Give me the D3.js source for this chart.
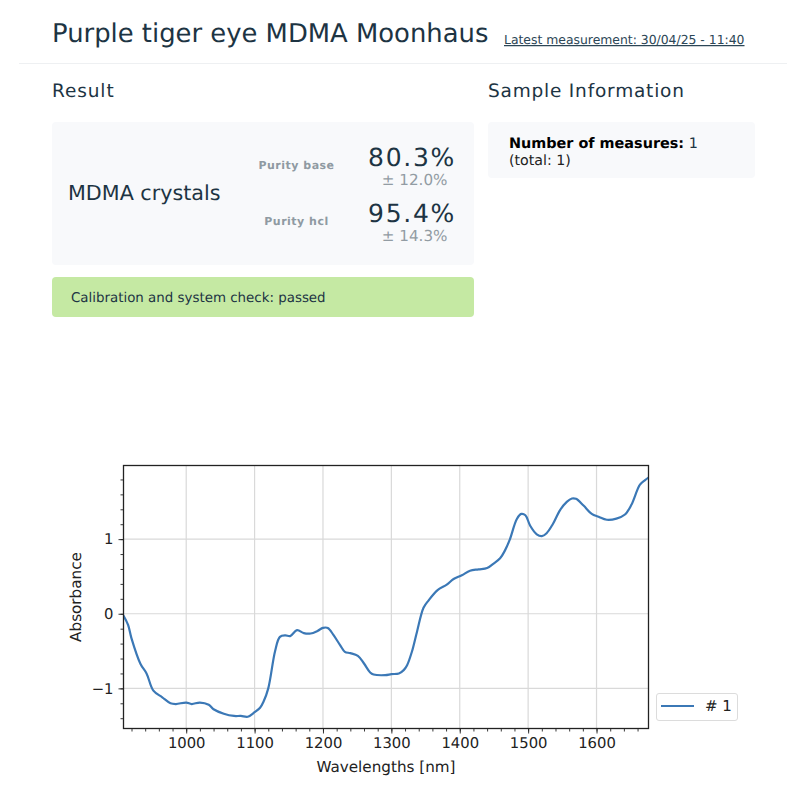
<!DOCTYPE html>
<html>
<head>
<meta charset="utf-8">
<script src="https://cdn.jsdelivr.net/npm/d3@7"></script>
<style>
  html, body { margin: 0; padding: 0; background: #fff; }
  svg { display: block; font-family: "DejaVu Sans", sans-serif; text-rendering: geometricPrecision; }
</style>
</head>
<body>
<svg id="page" width="806" height="800"></svg>
<script>
const wavelengths = [908,915,920,933,942,952,965,977,985,1000,1008,1020,1033,1040,1055,1070,1080,1090,1100,1108,1113,1120,1130,1137,1145,1152,1162,1172,1182,1192,1200,1207,1215,1225,1232,1240,1251,1260,1269,1274,1291,1300,1311,1318,1323,1330,1337.5,1347,1354.5,1368,1381,1391,1403,1415,1427.5,1440,1449,1459,1466,1473,1483.5,1490,1496,1503,1512.6,1520,1527,1536,1546.7,1556.5,1564,1570,1581,1593,1603,1615,1629,1641.6,1651,1663.5,1671,1676];
const absorbance = [-0.02,-0.15,-0.33,-0.67,-0.8,-1.03,-1.12,-1.2,-1.21,-1.19,-1.21,-1.19,-1.22,-1.28,-1.34,-1.37,-1.37,-1.38,-1.32,-1.26,-1.18,-1.0,-0.5,-0.31,-0.29,-0.3,-0.22,-0.26,-0.265,-0.23,-0.19,-0.19,-0.28,-0.42,-0.51,-0.528,-0.564,-0.667,-0.787,-0.814,-0.823,-0.81,-0.8,-0.756,-0.69,-0.51,-0.24,0.08,0.18,0.32,0.39,0.465,0.515,0.577,0.595,0.613,0.67,0.743,0.846,0.99,1.27,1.338,1.32,1.18,1.065,1.04,1.08,1.2,1.39,1.5,1.545,1.54,1.45,1.338,1.3,1.26,1.275,1.33,1.46,1.73,1.79,1.825];
const xTicks = [1000,1100,1200,1300,1400,1500,1600];
const yTicks = [-1,0,1];
const xMinor = d3.range(920, 1676, 20);
const yMinor = d3.range(-1.4, 1.9, 0.2);
const seriesName = "# 1";

const INK = "#1d3443";
const svg = d3.select("#page");

const text = (x, y, str, size, opts = {}) => svg.append("text")
  .attr("x", x).attr("y", y)
  .attr("font-size", size)
  .attr("fill", opts.fill || INK)
  .attr("font-weight", opts.weight || null)
  .attr("letter-spacing", opts.spacing || null)
  .attr("text-anchor", opts.anchor || "start")
  .text(str);

const panel = (x, y, w, h, fill) => svg.append("rect")
  .attr("x", x).attr("y", y).attr("width", w).attr("height", h)
  .attr("rx", 4).attr("fill", fill);

// header
text(52, 42, "Purple tiger eye MDMA Moonhaus", 25.85);
text(504, 44, "Latest measurement: 30/04/25 - 11:40", 12.4, {fill: "#2c4656"}).attr("text-decoration", "underline");
svg.append("line").attr("x1", 19).attr("x2", 787).attr("y1", 63.5).attr("y2", 63.5)
  .attr("stroke", "#eef0f2").attr("stroke-width", 1);

// result
text(52, 97, "Result", 18.5, {spacing: 0.9});
panel(52, 122, 422, 143, "#f8f9fb");
text(68, 200, "MDMA crystals", 20.7);
text(296.5, 169, "Purity base", 11, {fill: "#8f9aa2", weight: "bold", anchor: "middle", spacing: 0.5});
text(296.5, 225, "Purity hcl", 11, {fill: "#8f9aa2", weight: "bold", anchor: "middle", spacing: 0.5});
text(456, 166, "80.3%", 25, {anchor: "end", spacing: 1.7});
text(447.5, 185, "± 12.0%", 15.2, {fill: "#929ca3", anchor: "end"});
text(456, 222, "95.4%", 25, {anchor: "end", spacing: 1.7});
text(447.5, 241, "± 14.3%", 15.2, {fill: "#929ca3", anchor: "end"});
panel(52, 277, 422, 40, "#c5e9a3");
text(71, 302, "Calibration and system check: passed", 13.4);

// sample information
text(488, 97, "Sample Information", 18.5, {spacing: 0.8});
panel(488, 122, 267, 56, "#f8f9fb");
const measures = text(509, 148, "Number of measures:", 14.4, {fill: "#000", weight: "bold"});
measures.append("tspan").attr("font-weight", "normal").attr("fill", INK).text(" 1");
text(509, 165, "(total: 1)", 14.2, {fill: "#222"});

// chart
const plot = {left: 123.5, right: 648.5, top: 465.5, bottom: 728.5};
const x = d3.scaleLinear().domain([908.3, 1676]).range([plot.left, plot.right]);
const y = d3.scaleLinear().domain([-1.538, 1.987]).range([plot.bottom, plot.top]);

const chart = svg.append("g");
chart.append("g").selectAll("line").data(xTicks).join("line")
  .attr("x1", d => x(d)).attr("x2", d => x(d))
  .attr("y1", plot.top).attr("y2", plot.bottom)
  .attr("stroke", "#d9d9d9").attr("stroke-width", 1.2);
chart.append("g").selectAll("line").data(yTicks).join("line")
  .attr("x1", plot.left).attr("x2", plot.right)
  .attr("y1", d => y(d)).attr("y2", d => y(d))
  .attr("stroke", "#d9d9d9").attr("stroke-width", 1.2);

const xAxis = d3.axisBottom(x).tickValues(xTicks).tickFormat(d3.format("d")).tickSize(5).tickPadding(4);
const yAxis = d3.axisLeft(y).tickValues(yTicks).tickFormat(d => d < 0 ? "\u2212" + Math.abs(d) : d).tickSize(5).tickPadding(5);
const xMinorAxis = d3.axisBottom(x).tickValues(xMinor).tickFormat("").tickSize(3);
const yMinorAxis = d3.axisLeft(y).tickValues(yMinor).tickFormat("").tickSize(3);

[[xMinorAxis, 0, plot.bottom], [yMinorAxis, plot.left, 0], [xAxis, 0, plot.bottom], [yAxis, plot.left, 0]].forEach(([axis, tx, ty]) => {
  const g = chart.append("g").attr("transform", `translate(${tx},${ty})`).call(axis);
  g.select(".domain").remove();
  g.selectAll("line").attr("stroke", "#222").attr("stroke-width", 0.9);
  g.selectAll("text").attr("fill", "#222").attr("font-size", 14.8).attr("font-family", "DejaVu Sans");
});

svg.append("clipPath").attr("id", "plot-clip").append("rect")
  .attr("x", plot.left).attr("y", plot.top)
  .attr("width", plot.right - plot.left).attr("height", plot.bottom - plot.top);

const line = d3.line()
  .x(d => x(d[0])).y(d => y(d[1]))
  .curve(d3.curveCatmullRom.alpha(0.5));
chart.append("path")
  .datum(d3.zip(wavelengths, absorbance))
  .attr("d", line)
  .attr("fill", "none").attr("stroke", "#3b78b6").attr("stroke-width", 2.2)
  .attr("clip-path", "url(#plot-clip)");

chart.append("rect")
  .attr("x", plot.left).attr("y", plot.top)
  .attr("width", plot.right - plot.left).attr("height", plot.bottom - plot.top)
  .attr("fill", "none").attr("stroke", "#222").attr("stroke-width", 1.3);

text((plot.left + plot.right) / 2, 772, "Wavelengths [nm]", 15.2, {fill: "#222", anchor: "middle"});
text(0, 0, "Absorbance", 15.2, {fill: "#222", anchor: "middle"})
  .attr("transform", `translate(81,${(plot.top + plot.bottom) / 2}) rotate(-90)`);

// legend
svg.append("rect").attr("x", 656.5).attr("y", 693.5).attr("width", 81).attr("height", 27).attr("rx", 2.5)
  .attr("fill", "#fff").attr("stroke", "#dcdcdc").attr("stroke-width", 1);
svg.append("line").attr("x1", 661).attr("x2", 694).attr("y1", 706).attr("y2", 706)
  .attr("stroke", "#3b78b6").attr("stroke-width", 2.2);
text(705, 711, seriesName, 15, {fill: "#222"});
</script>
</body>
</html>
